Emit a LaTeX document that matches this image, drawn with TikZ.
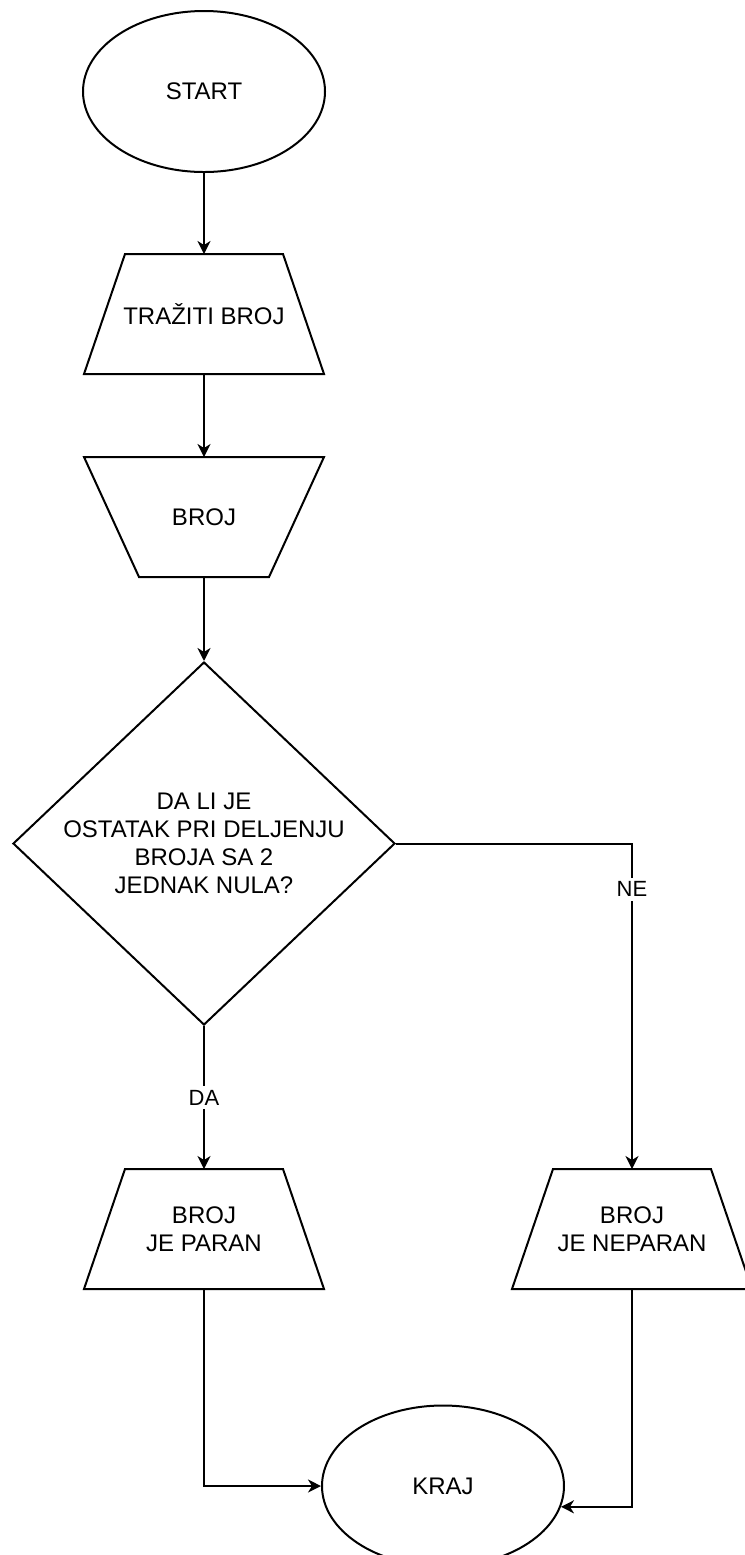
\documentclass[tikz,border=0pt]{standalone}
\usepackage{fontspec}
\setmainfont{Liberation Sans}
\usepackage{tikz}
\usetikzlibrary{shapes.geometric, arrows.meta, positioning}
\tikzstyle{terminal} = [ellipse, draw, line width=1pt,
minimum width=121pt, minimum height=80.5pt, inner sep=0pt]
\tikzstyle{iobox} = [rectangle, minimum width=120pt, minimum height=60pt,
inner sep=0pt, outer sep=0pt, align=center]
\tikzstyle{decision} = [diamond, draw, line width=1pt,
minimum width=191pt, minimum height=181.5pt, inner sep=0pt]
\tikzstyle{outline} = [draw, line width=1pt, line join=miter]
\tikzstyle{arrow} = [-{Stealth[length=6.5pt, width=6.5pt, inset=2pt]}, line width=1pt]
\tikzstyle{edgelabel} = [fill=white, font=\fontsize{11}{13}\selectfont, inner sep=2pt]
\begin{document}
\begin{tikzpicture}[x=0.5pt, y=-0.5pt, font=\fontsize{12}{14}\selectfont]
    \useasboundingbox (0,0) rectangle (745,1555);
    \node (start) [terminal] at (204,91.5) {START};
    \node (ask)   [iobox, below=40.5pt of start] {TRAŽITI BROJ};
    \node (num)   [iobox, below=41.5pt of ask] {BROJ};
    \node (test)  [decision, below=42pt of num,
        label={[align=center]center:DA LI JE\\OSTATAK PRI DELJENJU\\BROJA SA 2\\JEDNAK NULA?}] {};
    \node (even)  [iobox, below=71.5pt of test] {BROJ\\JE PARAN};
    \node (odd)   [iobox, xshift=214pt] at (even) {BROJ\\JE NEPARAN};
    \node (kraj)  [terminal, xshift=119.5pt, yshift=-128.5pt] at (even) {KRAJ};

    % trapezoid outlines: node / top inset / bottom inset
    \foreach \n/\t/\b in {ask/20.5/0, num/0/27.5, even/20.5/0, odd/20.5/0}
        \draw[outline] ([xshift=\t pt]\n.north west) -- ([xshift=-\t pt]\n.north east)
            -- ([xshift=-\b pt]\n.south east) -- ([xshift=\b pt]\n.south west) -- cycle;

    \draw[arrow] (start) -- (ask);
    \draw[arrow] (ask) -- (num);
    \draw[arrow] (num) -- (test);
    \draw[arrow] (test) -- node[edgelabel]{DA} (even);
    \draw[arrow] (test.east) -| node[edgelabel, pos=0.57]{NE} (odd.north);
    \draw[arrow] (even.south) |- (kraj.west);
    \draw[arrow] (odd.south) |- (kraj.-10);
\end{tikzpicture}
\end{document}
